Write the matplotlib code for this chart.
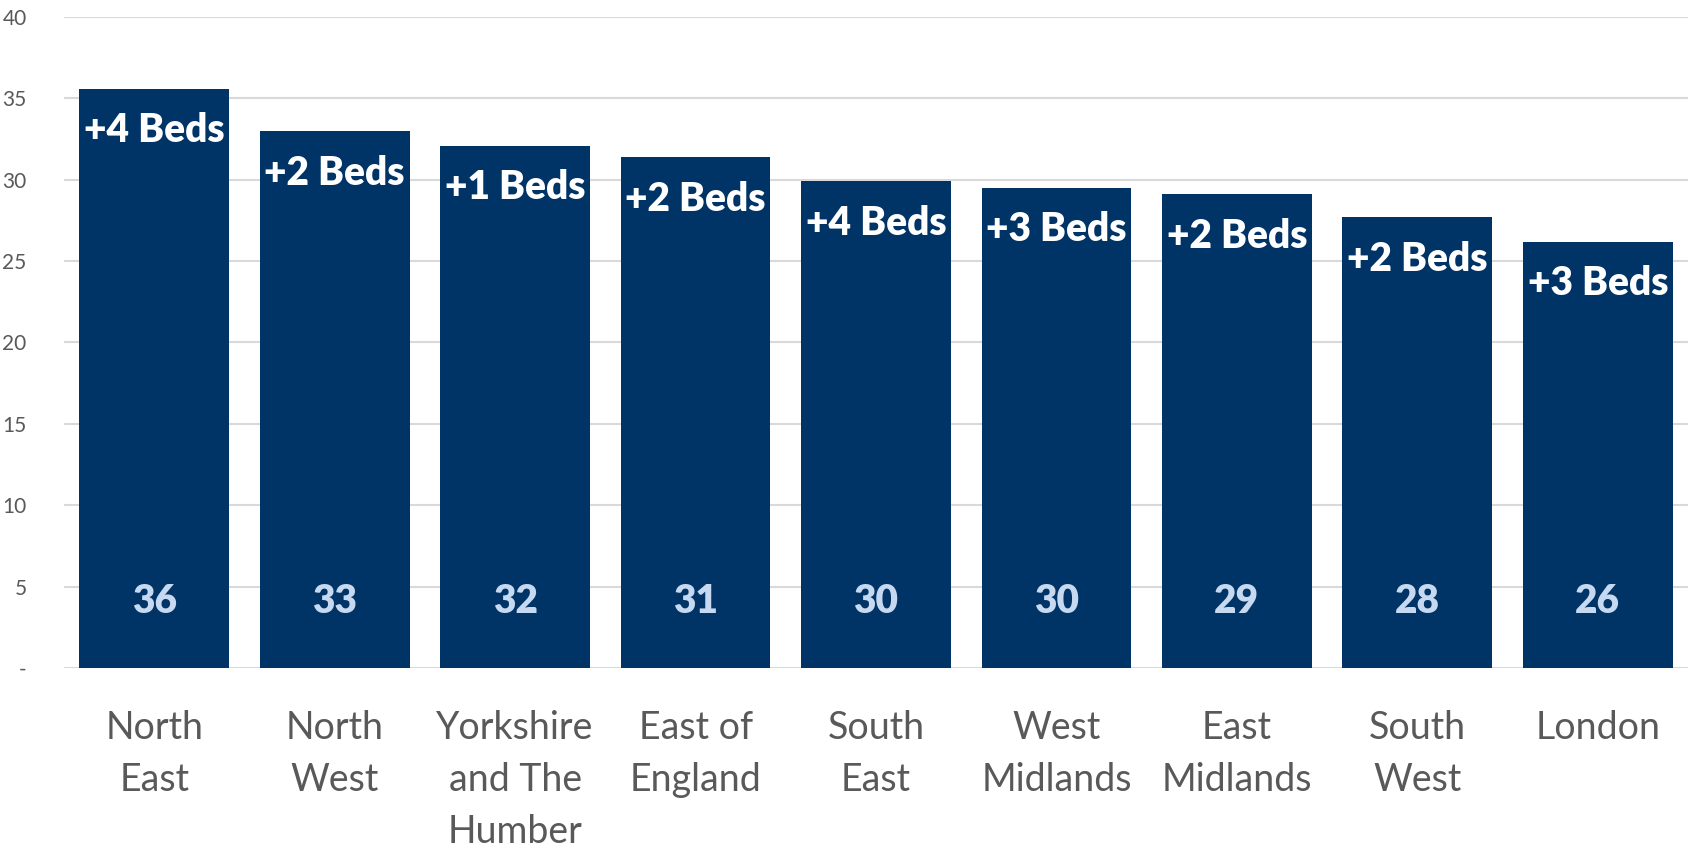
import numpy as np
import matplotlib.pyplot as plt

# Regions and values
regions = ["North\nEast", "North\nWest", "Yorkshire\nand The\nHumber", "East of\nEngland",
           "South\nEast", "West\nMidlands", "East\nMidlands", "South\nWest", "London"]
values = [35.6, 33.0, 32.1, 31.4, 29.9, 29.5, 29.1, 27.7, 26.2]
value_labels = ["36", "33", "32", "31", "30", "30", "29", "28", "26"]
beds = ["+4 Beds", "+2 Beds", "+1 Beds", "+2 Beds", "+4 Beds", "+3 Beds", "+2 Beds", "+2 Beds", "+3 Beds"]
yticks = [0, 5, 10, 15, 20, 25, 30, 35, 40]
ytick_labels = ["-", "5", "10", "15", "20", "25", "30", "35", "40"]

plt.rcParams['font.family'] = ['Lato', 'DejaVu Sans']

fig = plt.figure(figsize=(16.9, 8.44), dpi=100)
ax = fig.add_axes([0.0379, 0.2085, 0.9609, 0.7714])

x = np.arange(len(regions))
bar_color = "#003366"
ax.bar(x, values, width=0.83, color=bar_color, zorder=2)

for i, v in enumerate(values):
    ax.text(x[i], v - 1.45, beds[i], ha='center', va='top', color='white',
            fontsize=28, fontweight='heavy', zorder=3)
    ax.text(x[i], 4.1, value_labels[i], ha='center', va='center', color='#c6d9f0',
            fontsize=28, fontweight='heavy', zorder=3)

ax.set_xlim(-0.5, len(regions) - 0.5)
ax.set_ylim(0, 40)
ax.set_yticks(yticks)
ax.set_yticklabels(ytick_labels, fontsize=15, color='#595959')
ax.set_xticks(x)
ax.set_xticklabels(regions, fontsize=27, color='#595959', linespacing=1.55)
ax.tick_params(axis='both', length=0)
ax.tick_params(axis='x', pad=30)
ax.tick_params(axis='y', pad=27)

ax.yaxis.grid(True, color='#d9d9d9', linewidth=1.5, zorder=0)
ax.set_axisbelow(True)
for s in ax.spines.values():
    s.set_visible(False)

fig.savefig("out.png", dpi=100)
